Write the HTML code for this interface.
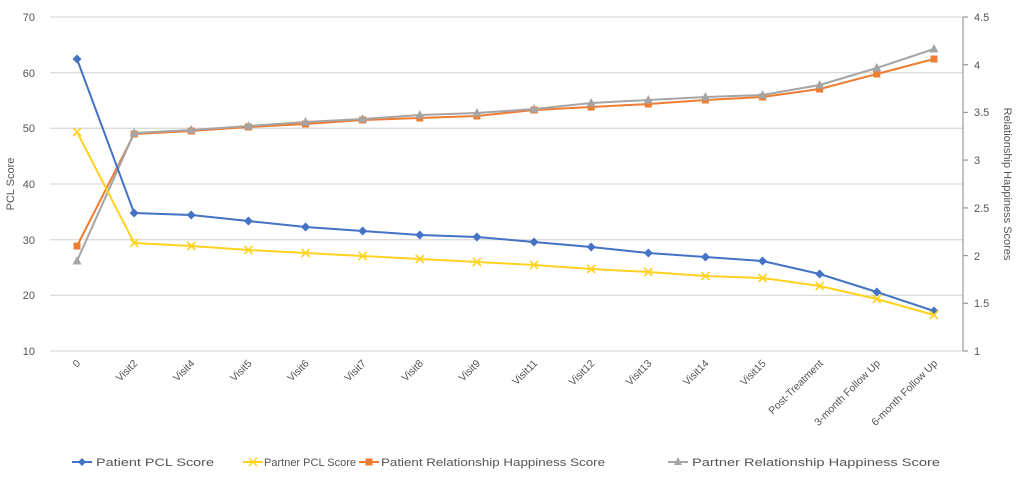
<!DOCTYPE html>
<html><head><meta charset="utf-8"><style>
body{margin:0;background:#fff;width:1024px;height:482px;overflow:hidden}
text{font-family:"Liberation Sans",sans-serif;fill:#555}
</style></head><body>
<svg id="s" width="1024" height="482" xmlns="http://www.w3.org/2000/svg">
<g stroke="#dcdcdc" stroke-width="1.3">
<line x1="50" x2="963" y1="17" y2="17"/><line x1="50" x2="963" y1="72.7" y2="72.7"/>
<line x1="50" x2="963" y1="128.3" y2="128.3"/><line x1="50" x2="963" y1="184" y2="184"/>
<line x1="50" x2="963" y1="239.7" y2="239.7"/><line x1="50" x2="963" y1="295.3" y2="295.3"/>
<line x1="50" x2="963" y1="351" y2="351"/>
</g>
<line x1="963" x2="963" y1="17" y2="351" stroke="#999" stroke-width="1.2"/>
<g stroke="#999" stroke-width="1.2">
<line x1="963" x2="968" y1="17" y2="17"/><line x1="963" x2="968" y1="64.7" y2="64.7"/><line x1="963" x2="968" y1="112.4" y2="112.4"/><line x1="963" x2="968" y1="160.1" y2="160.1"/><line x1="963" x2="968" y1="207.9" y2="207.9"/><line x1="963" x2="968" y1="255.6" y2="255.6"/><line x1="963" x2="968" y1="303.3" y2="303.3"/><line x1="963" x2="968" y1="351" y2="351"/>
</g>
<g font-size="11" text-anchor="end">
<text x="35" y="21">70</text><text x="35" y="77">60</text><text x="35" y="132">50</text><text x="35" y="188">40</text><text x="35" y="244">30</text><text x="35" y="299">20</text><text x="35" y="355">10</text>
</g>
<g font-size="11">
<text x="974" y="21">4.5</text><text x="974" y="69">4</text><text x="974" y="116">3.5</text><text x="974" y="164">3</text><text x="974" y="212">2.5</text><text x="974" y="260">2</text><text x="974" y="307">1.5</text><text x="974" y="355">1</text>
</g>
<text font-size="11" transform="translate(14,184) rotate(-90)" text-anchor="middle">PCL Score</text>
<text font-size="11" transform="translate(1004,184) rotate(90)" text-anchor="middle">Relationship Happiness Scores</text>
<g id="xl" font-size="10.5" text-anchor="end"></g>
<g id="ser"></g>
<g font-size="11">
<line x1="72" x2="92" y1="462" y2="462" stroke="#4472c4" stroke-width="2"/><path d="M82 458 L86 462 L82 466 L78 462Z" fill="#4472c4"/>
<text x="96" y="466" textLength="118" lengthAdjust="spacingAndGlyphs">Patient PCL Score</text>
<line x1="243" x2="263" y1="462" y2="462" stroke="#ffd21f" stroke-width="2"/><path d="M249 458l8 8M257 458l-8 8" stroke="#ffd21f" stroke-width="1.5"/>
<text x="264" y="466" textLength="92" lengthAdjust="spacingAndGlyphs">Partner PCL Score</text>
<line x1="359" x2="379" y1="462" y2="462" stroke="#ed7d31" stroke-width="2"/><rect x="365.5" y="458.5" width="7" height="7" fill="#ed7d31"/>
<text x="381" y="466" textLength="224" lengthAdjust="spacingAndGlyphs">Patient Relationship Happiness Score</text>
<line x1="668" x2="688" y1="462" y2="462" stroke="#a5a5a5" stroke-width="2"/><path d="M678 457 L682 465 L674 465Z" fill="#a5a5a5"/>
<text x="692" y="466" textLength="248" lengthAdjust="spacingAndGlyphs">Partner Relationship Happiness Score</text>
</g>
</svg>
<script>
var ns="http://www.w3.org/2000/svg";
var labs=["0","Visit2","Visit4","Visit5","Visit6","Visit7","Visit8","Visit9","Visit11","Visit12","Visit13","Visit14","Visit15","Post-Treatment","3-month Follow Up","6-month Follow Up"];
function X(i){return 77+i*57.13}
var xl=document.getElementById("xl");
labs.forEach(function(l,i){var t=document.createElementNS(ns,"text");t.setAttribute("transform","translate("+(X(i)+4)+",364) rotate(-45)");t.textContent=l;xl.appendChild(t);});
var S=[
{c:"#ed7d31",m:"sq",y:[246,134,131,127,124,120,118,116,110,107,104,100,97,89,74,59]},
{c:"#a5a5a5",m:"tri",y:[261,133,130,126,122,119,115,113,109,103,100,97,95,85,68,49]},
{c:"#4472c4",m:"dia",y:[59,213,215,221,227,231,235,237,242,247,253,257,261,274,292,311]},
{c:"#ffd21f",m:"x",y:[132,243,246,250,253,256,259,262,265,269,272,276,278,286,299,315]}];
var g=document.getElementById("ser");
S.forEach(function(s){
 var p=document.createElementNS(ns,"polyline");
 p.setAttribute("points",s.y.map(function(y,i){return X(i)+","+y}).join(" "));
 p.setAttribute("fill","none");p.setAttribute("stroke",s.c);p.setAttribute("stroke-width","2");g.appendChild(p);
 s.y.forEach(function(y,i){var x=X(i),e=document.createElementNS(ns,"path"),d;
  if(s.m=="sq")d="M"+(x-3.5)+" "+(y-3.5)+"h7v7h-7Z";
  else if(s.m=="tri")d="M"+x+" "+(y-5)+"L"+(x+4.5)+" "+(y+3.5)+"L"+(x-4.5)+" "+(y+3.5)+"Z";
  else if(s.m=="dia")d="M"+x+" "+(y-4.5)+"L"+(x+4.5)+" "+y+"L"+x+" "+(y+4.5)+"L"+(x-4.5)+" "+y+"Z";
  else d="M"+(x-4)+" "+(y-4)+"l8 8M"+(x+4)+" "+(y-4)+"l-8 8";
  e.setAttribute("d",d);
  if(s.m=="x"){e.setAttribute("stroke",s.c);e.setAttribute("stroke-width","1.6");e.setAttribute("fill","none");}
  else e.setAttribute("fill",s.c);
  g.appendChild(e);});
});
</script>
</body></html>
